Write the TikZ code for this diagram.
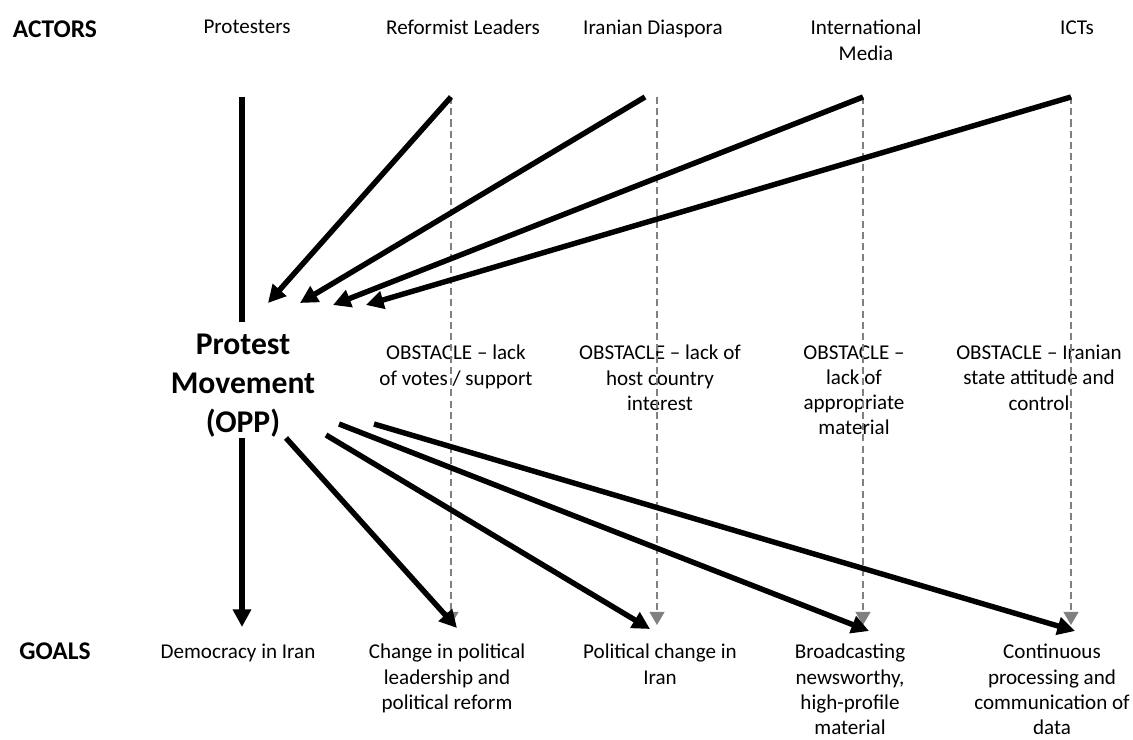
\documentclass[tikz,border=0pt]{standalone}
\usepackage{fontspec}
\setmainfont{Carlito}
\usepackage{tikz}
\usetikzlibrary{arrows.meta,positioning}

\begin{document}
\begin{tikzpicture}[x=0.02cm, y=-0.02cm]
			\tikzstyle{Label}	= [anchor=north, inner sep=0pt, align=center, font=\fontsize{12}{14.3}\selectfont]
			\tikzstyle{Head}	= [anchor=north, inner sep=0pt, font=\fontsize{14.5}{17}\selectfont\bfseries]
			\tikzstyle{Centre}	= [anchor=north, inner sep=0pt, align=center, font=\fontsize{18}{22}\selectfont\bfseries]
			\tikzstyle{Link}	= [line width=3.1pt, -{Triangle[length=10pt, width=10pt]}]
			\tikzstyle{Plain}	= [line width=3.1pt]
			\tikzstyle{Hidden}	= [gray, line width=1.1pt, dash pattern=on 4pt off 2.4pt, -{Triangle[length=7.5pt, width=8.5pt]}]

			\useasboundingbox (0, 0) rectangle (1133, 740);

			% actors
			\node (actors) at (55, 20) [Head] {ACTORS};
			\node (prot) at (247, 20) [Label] {Protesters};
			\node (reform) at (463, 20) [Label] {Reformist Leaders};
			\node (diasp) at (653, 20) [Label] {Iranian Diaspora};
			\node (media) at (866, 20) [Label] {International\\Media};
			\node (icts) at (1077, 20) [Label] {ICTs};

			% protest movement
			\node (opp) at (243, 334) [Centre] {Protest\\Movement\\(OPP)};

			% obstacles
			\node (obs1) at (456, 345) [Label] {OBSTACLE -- lack\\of votes / support};
			\node (obs2) at (660, 345) [Label] {OBSTACLE -- lack of\\host country\\interest};
			\node (obs3) at (854, 345) [Label] {OBSTACLE --\\lack of\\appropriate\\material};
			\node (obs4) at (1039, 345) [Label] {OBSTACLE -- Iranian\\state attitude and\\control};

			% goals
			\node (goals) at (55, 642) [Head] {GOALS};
			\node (g1) at (238, 644) [Label] {Democracy in Iran};
			\node (g2) at (447, 644) [Label] {Change in political\\leadership and\\political reform};
			\node (g3) at (660, 644) [Label] {Political change in\\Iran};
			\node (g4) at (850, 644) [Label] {Broadcasting\\newsworthy,\\high-profile\\material};
			\node (g5) at (1052, 644) [Label] {Continuous\\processing and\\communication of\\data};

			% connector ends
			\coordinate (p0) at (242, 97);
			\coordinate (p1) at (242, 322);
			\coordinate (p2) at (242, 438);
			\coordinate (p3) at (242, 627);
			\coordinate (r0) at (451, 97);
			\coordinate (d0) at (645, 97);
			\coordinate (d1) at (657, 97);
			\coordinate (m0) at (863, 97);
			\coordinate (i0) at (1071, 97);
			\coordinate (a1) at (268, 303);
			\coordinate (a2) at (300, 303);
			\coordinate (a3) at (333, 305);
			\coordinate (a4) at (366, 305);
			\coordinate (b1) at (286, 438);
			\coordinate (b2) at (326, 435);
			\coordinate (b3) at (339, 424);
			\coordinate (b4) at (374, 424);
			\coordinate (t1) at (457, 628);
			\coordinate (t2) at (650, 629);
			\coordinate (t3) at (869, 631);
			\coordinate (t4) at (1075, 631);
			\coordinate (h1) at (451, 625);
			\coordinate (h2) at (657, 625);
			\coordinate (h3) at (863, 625);
			\coordinate (h4) at (1071, 625);

			\draw (r0) to (h1) [Hidden];
			\draw (d1) to (h2) [Hidden];
			\draw (m0) to (h3) [Hidden];
			\draw (i0) to (h4) [Hidden];

			\draw (p0) to (p1) [Plain];
			\draw (p2) to (p3) [Link];
			\draw (r0) to (a1) [Link];
			\draw (d0) to (a2) [Link];
			\draw (m0) to (a3) [Link];
			\draw (i0) to (a4) [Link];

			\draw (b1) to (t1) [Link];
			\draw (b2) to (t2) [Link];
			\draw (b3) to (t3) [Link];
			\draw (b4) to (t4) [Link];
		\end{tikzpicture}
\end{document}
